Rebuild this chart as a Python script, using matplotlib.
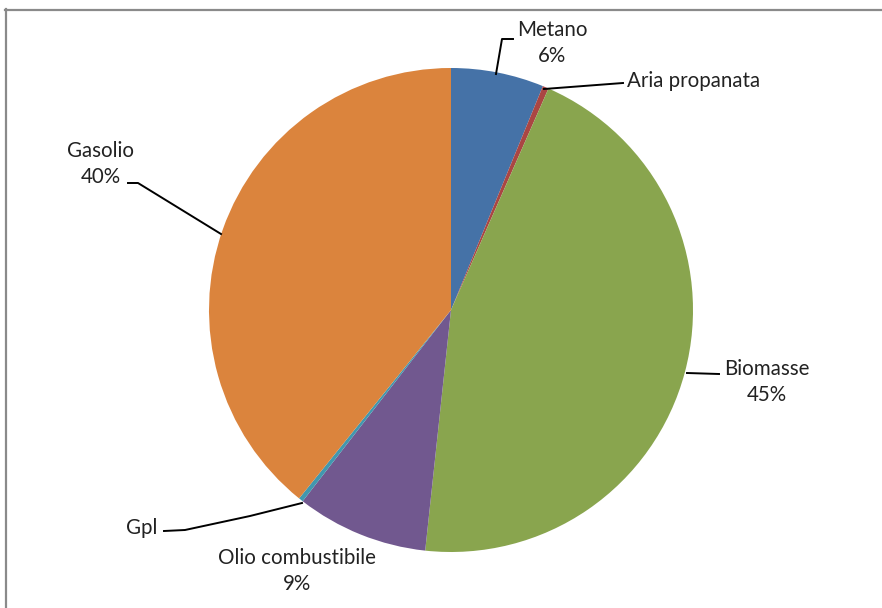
import matplotlib.pyplot as plt

# data
labels = ["Metano", "Aria propanata", "Biomasse", "Olio combustibile", "Gpl", "Gasolio"]
values = [6.2, 0.4, 45.1, 8.8, 0.3, 39.2]
pct_labels = ["6%", "", "45%", "9%", "", "40%"]
colors = ["#4572A7", "#AA4643", "#89A54E", "#71588F", "#4198AF", "#DB843D"]

plt.rcParams['font.family'] = ['Lato', 'DejaVu Sans']

fig = plt.figure(figsize=(8.82, 6.08), dpi=100)
ax = fig.add_axes([0, 0, 1, 1])

# inverted y: start at top, go clockwise on screen
wedges, _ = ax.pie(values, colors=colors, startangle=-90, counterclock=True,
                   center=(451, 310), radius=242, frame=True,
                   wedgeprops=dict(linewidth=0))
ax.set_xlim(0, 882)
ax.set_ylim(608, 0)
ax.set_aspect('equal')
ax.axis('off')

# outer frame (gray, top and left visible)
ax.plot([5.5, 5.5], [9, 608], color="#8a8a8a", lw=1.6, clip_on=False)
ax.plot([5, 882], [9.5, 9.5], color="#8a8a8a", lw=1.6, clip_on=False)

fs = 14.8
tc = "#222222"
ls = 1.4

def lbl(i):
    s = labels[i]
    if pct_labels[i]:
        s += "\n" + pct_labels[i]
    return s

# label positions and leader lines
ax.text(552, 43, lbl(0), ha='center', va='center', fontsize=fs, color=tc, linespacing=ls)
ax.plot([496, 502, 513], [74, 39, 39], color='black', lw=1.4)

ax.text(627, 81, lbl(1), ha='left', va='center', fontsize=fs, color=tc)
ax.plot([544, 623], [89, 83], color='black', lw=1.4)

ax.text(767, 382, lbl(2), ha='center', va='center', fontsize=fs, color=tc, linespacing=ls)
ax.plot([687, 719], [373, 374], color='black', lw=1.4)

ax.text(297, 571, lbl(3), ha='center', va='center', fontsize=fs, color=tc, linespacing=ls)

ax.text(157, 528, lbl(4), ha='right', va='center', fontsize=fs, color=tc)
ax.plot([164, 185, 250, 302], [531, 530, 516, 503], color='black', lw=1.4)

ax.text(101, 164, lbl(5), ha='center', va='center', fontsize=fs, color=tc, linespacing=ls)
ax.plot([128, 138, 221], [183, 183, 234], color='black', lw=1.4)

fig.savefig("out.png", dpi=100)
